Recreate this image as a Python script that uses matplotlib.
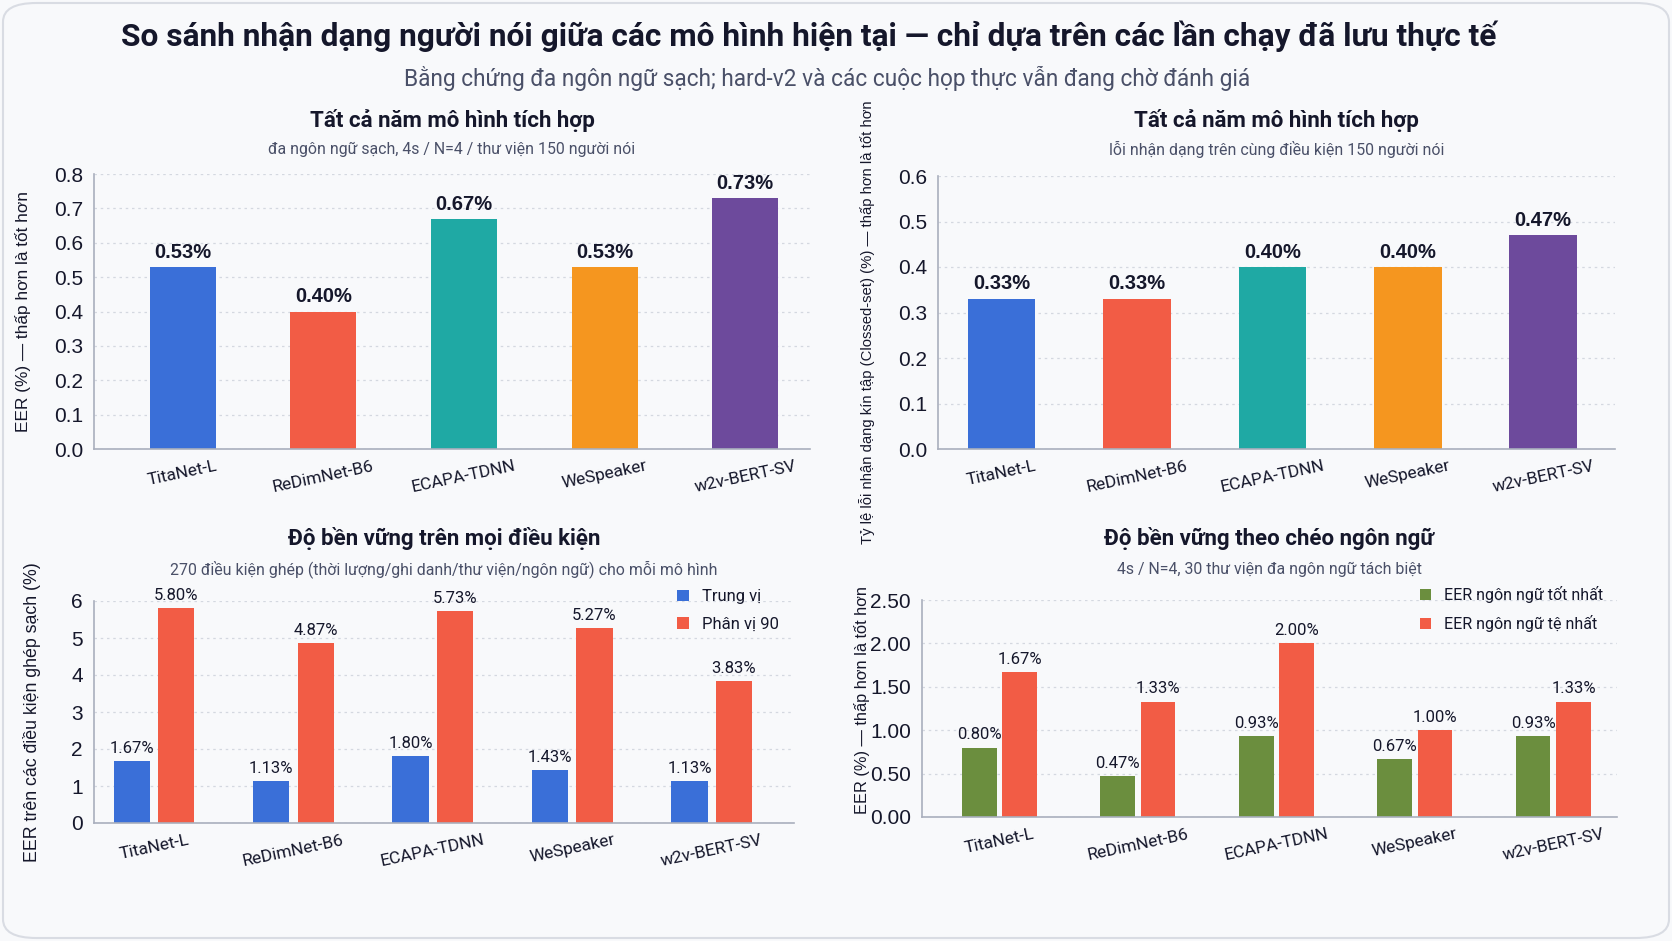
import matplotlib
matplotlib.use('Agg')
import matplotlib.pyplot as plt
from matplotlib.patches import FancyBboxPatch
import numpy as np

plt.rcParams['font.family'] = ['Liberation Sans', 'DejaVu Sans']

models = ['TitaNet-L', 'ReDimNet-B6', 'ECAPA-TDNN', 'WeSpeaker', 'w2v-BERT-SV']
bar_colors = ['#3a6fd8', '#f25c45', '#1fa9a4', '#f5961f', '#6d4a9c']

eer_clean = [0.53, 0.40, 0.67, 0.53, 0.73]
closed_set_err = [0.33, 0.33, 0.40, 0.40, 0.47]
median_eer = [1.67, 1.13, 1.80, 1.43, 1.13]
p90_eer = [5.80, 4.87, 5.73, 5.27, 3.83]
best_lang_eer = [0.80, 0.47, 0.93, 0.67, 0.93]
worst_lang_eer = [1.67, 1.33, 2.00, 1.00, 1.33]

BG = '#f8f9fb'
TXT = '#15172b'
SUB = '#4a5068'
SPINE = '#a9afbd'
BLUE = '#3a6fd8'
RED = '#f25c45'
GREEN = '#6b8e3e'
ROBOTO = ['Roboto', 'DejaVu Sans']

W, H = 1672, 941
fig = plt.figure(figsize=(W / 100, H / 100), dpi=100)
fig.patch.set_facecolor(BG)
fig.patches.append(FancyBboxPatch((3 / W, 3 / H), 1 - 6 / W, 1 - 6 / H,
                                  boxstyle='round,pad=0,rounding_size=0.02',
                                  transform=fig.transFigure, facecolor='none',
                                  edgecolor='#d9dce3', linewidth=1.5))


def add_ax(x0, y0, x1, y1):
    return fig.add_axes([x0 / W, 1 - y1 / H, (x1 - x0) / W, (y1 - y0) / H])


def style(ax, ylim, yticks, fmt, xlim):
    ax.set_facecolor('none')
    for s in ['top', 'right']:
        ax.spines[s].set_visible(False)
    for s in ['left', 'bottom']:
        ax.spines[s].set_color(SPINE)
        ax.spines[s].set_linewidth(1.2)
    ax.set_ylim(*ylim)
    ax.set_yticks(yticks)
    ax.set_yticklabels([fmt.format(t) for t in yticks], fontsize=15, color=TXT)
    ax.grid(axis='y', linestyle=(0, (2, 3)), color='#d4d8e0', linewidth=0.9)
    ax.set_axisbelow(True)
    ax.tick_params(axis='y', length=0, pad=8)
    ax.tick_params(axis='x', length=0, pad=7)
    ax.set_xlim(*xlim)
    ax.set_xticks(np.arange(len(models)))
    ax.set_xticklabels(models, rotation=12, fontsize=12.5, color=TXT, ha='center',
                       family=ROBOTO)


def titles(ax, title, sub, ty, sy):
    cx = (ax.get_position().x0 + ax.get_position().x1) / 2
    fig.text(cx, 1 - ty / H, title, ha='center', va='center', fontsize=16,
             fontweight='bold', color=TXT, family=ROBOTO)
    fig.text(cx, 1 - sy / H, sub, ha='center', va='center', fontsize=11.4,
             color=SUB, family=ROBOTO)


fig.text(0.4834, 1 - 36 / H,
         'So sánh nhận dạng người nói giữa các mô hình hiện tại — chỉ dựa trên các lần chạy đã lưu thực tế',
         ha='center', va='center', fontsize=22.8, fontweight='bold', color=TXT, family=ROBOTO)
fig.text(0.4945, 1 - 78 / H,
         'Bằng chứng đa ngôn ngữ sạch; hard-v2 và các cuộc họp thực vẫn đang chờ đánh giá',
         ha='center', va='center', fontsize=16.3, color=SUB, family=ROBOTO)

x = np.arange(len(models))

# top-left
ax1 = add_ax(94, 174, 810, 449)
ax1.bar(x, eer_clean, width=0.47, color=bar_colors)
style(ax1, (0, 0.8), np.arange(0, 0.81, 0.1), '{:.1f}', (-0.63, 4.46))
for xi, v in zip(x, eer_clean):
    ax1.text(xi, v + 0.015, f'{v:.2f}%', ha='center', va='bottom', fontsize=14.5,
             fontweight='bold', color=TXT, clip_on=False)
ax1.set_ylabel('EER (%) — thấp hơn là tốt hơn', fontsize=12.4, color=TXT, labelpad=16)
titles(ax1, 'Tất cả năm mô hình tích hợp', 'đa ngôn ngữ sạch, 4s / N=4 / thư viện 150 người nói', 120, 149)

# top-right
ax2 = add_ax(938, 176, 1615, 449)
ax2.bar(x, closed_set_err, width=0.5, color=bar_colors)
style(ax2, (0, 0.6), np.arange(0, 0.61, 0.1), '{:.1f}', (-0.47, 4.53))
for xi, v in zip(x, closed_set_err):
    ax2.text(xi, v + 0.012, f'{v:.2f}%', ha='center', va='bottom', fontsize=14.5,
             fontweight='bold', color=TXT, clip_on=False)
ax2.set_ylabel('Tỷ lệ lỗi nhận dạng kín tập (Clossed-set) (%) — thấp hơn là tốt hơn',
               fontsize=10.7, color=TXT)
ax2.yaxis.set_label_coords(-0.093, 0.465)
titles(ax2, 'Tất cả năm mô hình tích hợp', 'lỗi nhận dạng trên cùng điều kiện 150 người nói', 120, 149)

# bottom-left
ax3 = add_ax(94, 601, 794, 823)
off, bw = 0.16, 0.26
ax3.bar(x - off, median_eer, width=bw, color=BLUE, label='Trung vị')
ax3.bar(x + off, p90_eer, width=bw, color=RED, label='Phân vị 90')
style(ax3, (0, 6), np.arange(0, 7, 1), '{:d}', (-0.43, 4.59))
for xi, v in zip(x, median_eer):
    ax3.text(xi - off, v + 0.14, f'{v:.2f}%', ha='center', va='bottom', fontsize=12,
             color=TXT, family=ROBOTO)
for xi, v in zip(x, p90_eer):
    ax3.text(xi + off, v + 0.14, f'{v:.2f}%', ha='center', va='bottom', fontsize=12,
             color=TXT, clip_on=False, family=ROBOTO)
ax3.set_ylabel('EER trên các điều kiện ghép sạch (%)', fontsize=12.8, color=TXT, labelpad=22)
ax3.legend(loc='upper right', bbox_to_anchor=(1.0, 1.12), frameon=False,
           prop={'family': ROBOTO, 'size': 12}, handlelength=0.7, handleheight=0.7,
           labelspacing=0.75, labelcolor=TXT)
titles(ax3, 'Độ bền vững trên mọi điều kiện',
       '270 điều kiện ghép (thời lượng/ghi danh/thư viện/ngôn ngữ) cho mỗi mô hình', 539, 569)

# bottom-right
ax4 = add_ax(922, 600, 1617, 817)
off4, bw4 = 0.146, 0.25
ax4.bar(x - off4, best_lang_eer, width=bw4, color=GREEN, label='EER ngôn ngữ tốt nhất')
ax4.bar(x + off4, worst_lang_eer, width=bw4, color=RED, label='EER ngôn ngữ tệ nhất')
style(ax4, (0, 2.5), np.arange(0, 2.51, 0.5), '{:.2f}', (-0.56, 4.46))
for xi, v in zip(x, best_lang_eer):
    ax4.text(xi - off4, v + 0.06, f'{v:.2f}%', ha='center', va='bottom', fontsize=12,
             color=TXT, family=ROBOTO)
for xi, v in zip(x, worst_lang_eer):
    ax4.text(xi + off4, v + 0.06, f'{v:.2f}%', ha='center', va='bottom', fontsize=12,
             color=TXT, family=ROBOTO)
ax4.set_ylabel('EER (%) — thấp hơn là tốt hơn', fontsize=11.8, color=TXT)
ax4.yaxis.set_label_coords(-0.075, 0.54)
ax4.legend(loc='upper right', bbox_to_anchor=(1.0, 1.13), frameon=False,
           prop={'family': ROBOTO, 'size': 11.5}, handlelength=0.7, handleheight=0.7,
           labelspacing=0.75, labelcolor=TXT)
titles(ax4, 'Độ bền vững theo chéo ngôn ngữ', '4s / N=4, 30 thư viện đa ngôn ngữ tách biệt', 539, 569)

fig.savefig('out.png', dpi=100, facecolor=fig.get_facecolor())
